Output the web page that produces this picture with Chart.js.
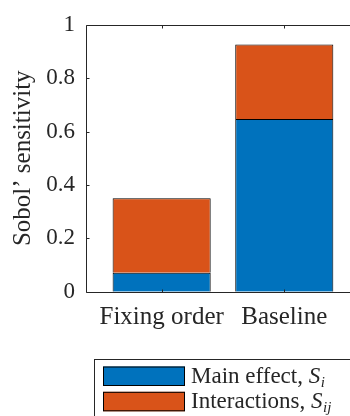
<!DOCTYPE html>
<html>
<head>
<meta charset="utf-8">
<script src="https://cdn.jsdelivr.net/npm/chart.js@4.4.1/dist/chart.umd.min.js"></script>
<style>
  html, body { margin: 0; padding: 0; background: #fff; overflow: hidden; }
  canvas { display: block; }
</style>
</head>
<body>
<canvas id="c" width="350" height="416"></canvas>
<script>
// Stacked Sobol' indices per configuration
const categories = ['Fixing order', 'Baseline'];
const mainEffect = [0.071, 0.647];
const interactions = [0.279, 0.279];
const yTicks = [0, 0.2, 0.4, 0.6, 0.8, 1];
const yTitle = 'Sobol\u2019 sensitivity';
const legendNames = ['Main effect, ', 'Interactions, '];
const legendSymbols = ['S', 'S'];
const legendSubscripts = ['i', 'ij'];

const ink = '#262626';
const serif = 'Liberation Serif, serif';
const blue = '#0072BD';
const orange = '#D95319';

Chart.defaults.font.family = serif;
Chart.defaults.color = ink;

const toPoints = vals => vals.map((v, i) => ({ x: i + 1, y: v }));

// Box lines (left, top, bottom) with inward tick marks, drawn over the bars
const axesBox = {
  id: 'axesBox',
  afterDatasetsDraw(chart) {
    const { ctx, chartArea: a, scales: { x, y } } = chart;
    const L = Math.round(a.left) + 0.5, T = Math.round(a.top) + 0.5;
    const B = Math.round(a.bottom) + 0.5, R = a.right;
    const tl = 3;
    ctx.save();
    ctx.strokeStyle = ink;
    ctx.lineWidth = 1;
    ctx.beginPath();
    ctx.moveTo(R, T); ctx.lineTo(L, T); ctx.lineTo(L, B); ctx.lineTo(R, B);
    y.ticks.forEach(t => {
      const py = Math.round(y.getPixelForValue(t.value)) + 0.5;
      ctx.moveTo(L, py); ctx.lineTo(L + tl, py);
    });
    x.ticks.forEach(t => {
      const px = Math.round(x.getPixelForValue(t.value)) + 0.5;
      ctx.moveTo(px, B); ctx.lineTo(px, B - tl);
      ctx.moveTo(px, T); ctx.lineTo(px, T + tl);
    });
    ctx.stroke();
    ctx.restore();
  }
};

// Legend with italic symbol and subscript
const mathLegend = {
  id: 'mathLegend',
  afterDraw(chart, args, o) {
    const ctx = chart.ctx;
    ctx.save();
    ctx.fillStyle = '#fff';
    ctx.fillRect(o.left, o.top, chart.width - o.left + 5, chart.height - o.top + 5);
    ctx.strokeStyle = ink;
    ctx.lineWidth = 1;
    ctx.strokeRect(o.left + 0.5, o.top + 0.5, chart.width, chart.height);
    chart.data.datasets.forEach((ds, i) => {
      const top = o.rowTop + i * o.rowPitch;
      ctx.fillStyle = ds.backgroundColor;
      ctx.fillRect(o.swatchLeft, top, o.swatchWidth, o.swatchHeight);
      ctx.strokeStyle = '#000';
      ctx.strokeRect(o.swatchLeft + 0.5, top + 0.5, o.swatchWidth - 1, o.swatchHeight - 1);
      const base = top + o.baselineOffset;
      let tx = o.textLeft;
      ctx.fillStyle = ink;
      ctx.textBaseline = 'alphabetic';
      ctx.textAlign = 'left';
      ctx.font = `${o.size}px ${serif}`;
      ctx.fillText(legendNames[i], tx, base);
      tx += ctx.measureText(legendNames[i]).width;
      ctx.font = `italic ${o.size}px ${serif}`;
      ctx.fillText(legendSymbols[i], tx, base);
      tx += ctx.measureText(legendSymbols[i]).width;
      ctx.font = `italic ${o.subSize}px ${serif}`;
      ctx.fillText(legendSubscripts[i], tx + 0.5, base + o.subDrop);
    });
    ctx.restore();
  }
};

new Chart(document.getElementById('c'), {
  type: 'bar',
  data: {
    datasets: [
      { label: 'Main effect, S\u1d62', data: toPoints(mainEffect), backgroundColor: blue,
        borderColor: '#000', borderWidth: 1, barPercentage: 0.8, categoryPercentage: 1 },
      { label: 'Interactions, S\u1d62\u2c7c', data: toPoints(interactions), backgroundColor: orange,
        borderColor: '#000', borderWidth: 1, barPercentage: 0.8, categoryPercentage: 1 }
    ]
  },
  options: {
    responsive: false,
    animation: false,
    devicePixelRatio: 1,
    layout: { padding: { left: 0, right: 0, top: 20, bottom: 0 } },
    plugins: {
      legend: { display: false },
      tooltip: { enabled: false },
      mathLegend: {
        left: 94, top: 359, swatchLeft: 103, swatchWidth: 82, swatchHeight: 19.5,
        rowTop: 366.5, rowPitch: 25.3, baselineOffset: 16, textLeft: 191,
        size: 23, subSize: 15, subDrop: 4
      }
    },
    scales: {
      x: {
        type: 'linear', stacked: true, min: 0.383, max: 2.536, offset: false,
        grid: { display: false, drawTicks: false, offset: false },
        border: { display: false },
        afterBuildTicks: s => { s.ticks = categories.map((_, i) => ({ value: i + 1 })); },
        afterFit: s => { s.height = 416 - 291.7; },
        ticks: {
          autoSkip: false, maxRotation: 0, padding: 11, color: ink,
          font: { family: serif, size: 25 },
          callback: v => categories[Math.round(v) - 1]
        }
      },
      y: {
        stacked: true, min: 0, max: 1,
        grid: { display: false, drawTicks: false },
        border: { display: false },
        afterBuildTicks: s => { s.ticks = yTicks.map(v => ({ value: v })); },
        afterFit: s => { s.width = 86; },
        ticks: {
          padding: 11, color: ink,
          font: { family: serif, size: 23 },
          callback: v => String(v)
        },
        title: {
          display: true, text: yTitle, color: ink,
          font: { family: serif, size: 25 },
          padding: { top: 8, bottom: 0 }
        }
      }
    }
  },
  plugins: [axesBox, mathLegend]
});
</script>
</body>
</html>
